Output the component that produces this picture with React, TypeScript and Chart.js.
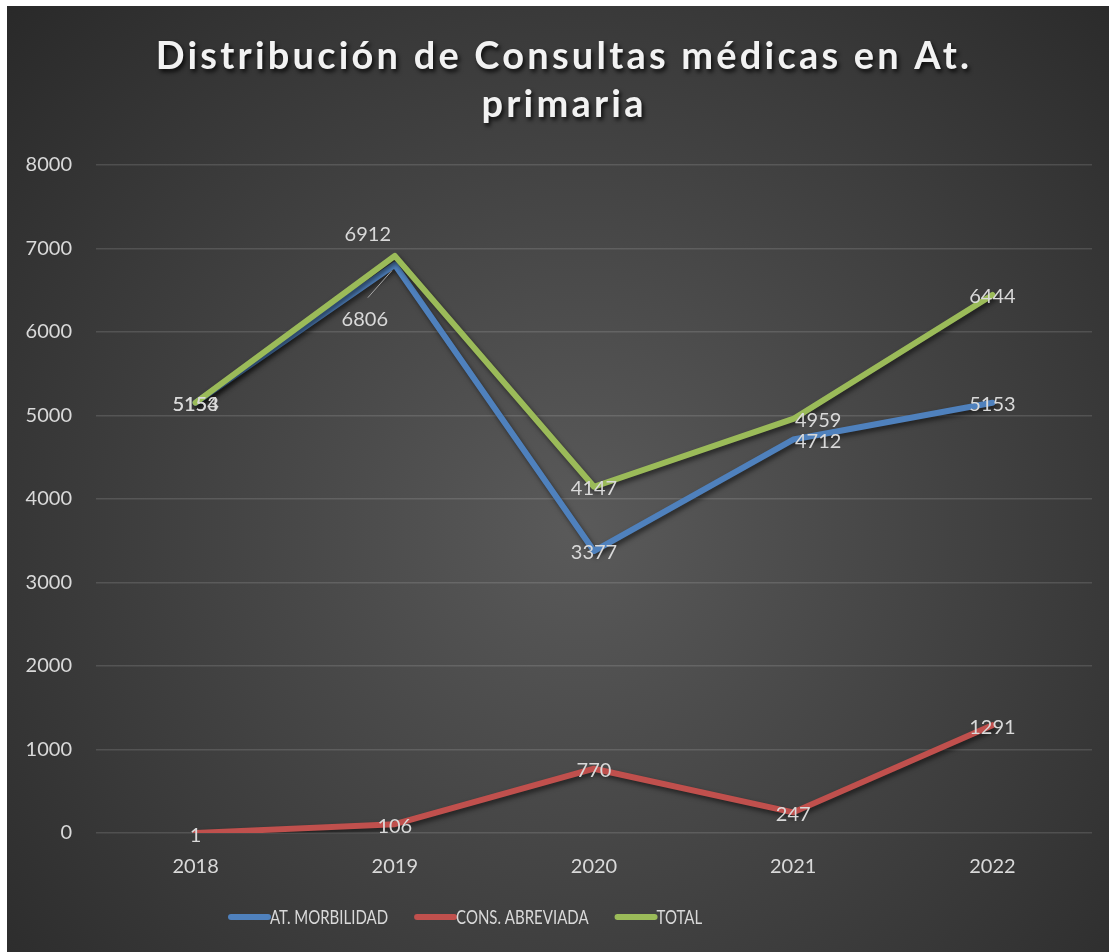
import React, { useEffect, useRef } from "react";
import { Chart, registerables } from "chart.js";

Chart.register(...registerables);

const categories = ["2018", "2019", "2020", "2021", "2022"];
const morbilidad = [5153, 6806, 3377, 4712, 5153];
const abreviada = [1, 106, 770, 247, 1291];
const total = [5154, 6912, 4147, 4959, 6444];
const seriesNames = ["AT. MORBILIDAD", "CONS. ABREVIADA", "TOTAL"];
const yTicks = [0, 1000, 2000, 3000, 4000, 5000, 6000, 7000, 8000];
const titleLines = ["Distribución de Consultas médicas en At.", "primaria"];

// label placement (dx, dy in px) relative to each point
const morbLabelOffsets = [[0, 2], [-30, 55], [0, 2], [25, 2], [0, 2]];
const abrevLabelOffsets = [[0, 3], [0, 2], [0, 2], [0, 2], [0, 2]];
const totalLabelOffsets = [[0, 2], [-27, -21], [0, 2], [25, 2], [0, 2]];

const COLORS = ["#4F81BD", "#C0504D", "#9BBB59"];
const TEXT = "#d9d9d9";
const FONT = "Lato, 'Open Sans', sans-serif";

const bgPlugin = {
  id: "bg",
  beforeDraw(chart: any) {
    const { ctx, width, height } = chart;
    const g = ctx.createRadialGradient(width * 0.52, height * 0.55, 0, width * 0.52, height * 0.55, width * 0.75);
    g.addColorStop(0, "#5a5a5a");
    g.addColorStop(1, "#262626");
    ctx.save();
    ctx.fillStyle = g;
    ctx.fillRect(0, 0, width, height);
    ctx.restore();
  },
};

const shadowPlugin = {
  id: "lineShadow",
  beforeDatasetDraw(chart: any) {
    const ctx = chart.ctx;
    ctx.save();
    ctx.shadowColor = "rgba(0,0,0,0.55)";
    ctx.shadowBlur = 5;
    ctx.shadowOffsetX = 2;
    ctx.shadowOffsetY = 3;
  },
  afterDatasetDraw(chart: any) {
    chart.ctx.restore();
  },
};

const titlePlugin = {
  id: "customTitle",
  afterDraw(chart: any) {
    const ctx = chart.ctx;
    ctx.save();
    ctx.font = `bold 38px ${FONT}`;
    (ctx as any).letterSpacing = "3.2px";
    ctx.textAlign = "center";
    ctx.textBaseline = "middle";
    ctx.fillStyle = "#f2f2f2";
    ctx.shadowColor = "rgba(0,0,0,0.8)";
    ctx.shadowBlur = 4;
    ctx.shadowOffsetX = 2;
    ctx.shadowOffsetY = 3;
    const cx = chart.width / 2 + 6;
    ctx.fillText(titleLines[0], cx, 51);
    ctx.fillText(titleLines[1], cx, 99);
    ctx.restore();
  },
};

const labelsPlugin = {
  id: "pointLabels",
  afterDatasetsDraw(chart: any) {
    const ctx = chart.ctx;
    ctx.save();
    ctx.font = `20px ${FONT}`;
    ctx.textAlign = "center";
    ctx.textBaseline = "middle";
    ctx.fillStyle = TEXT;
    chart.data.datasets.forEach((ds: any, di: number) => {
      const meta = chart.getDatasetMeta(di);
      meta.data.forEach((pt: any, i: number) => {
        const [dx, dy] = ds.labelOffsets[i];
        if (Math.abs(dy) > 30) {
          ctx.save();
          ctx.strokeStyle = "#a6a6a6";
          ctx.lineWidth = 1;
          ctx.beginPath();
          ctx.moveTo(pt.x - 3, pt.y + 6);
          ctx.lineTo(pt.x + dx + 3, pt.y + dy - 22);
          ctx.stroke();
          ctx.restore();
        }
        ctx.fillText(String(ds.data[i]), pt.x + dx, pt.y + dy);
      });
    });
    ctx.restore();
  },
};

const legendPlugin = {
  id: "customLegend",
  afterDraw(chart: any) {
    const ctx = chart.ctx;
    ctx.save();
    ctx.font = `20px ${FONT}`;
    ctx.textBaseline = "middle";
    ctx.textAlign = "left";
    const y = 911;
    const squeeze = 0.75;
    let x = 221;
    seriesNames.forEach((name, i) => {
      ctx.strokeStyle = COLORS[i];
      ctx.lineWidth = 6;
      ctx.lineCap = "round";
      ctx.beginPath();
      ctx.moveTo(x + 3, y);
      ctx.lineTo(x + 40, y);
      ctx.stroke();
      ctx.fillStyle = TEXT;
      const tx = x + 42;
      ctx.save();
      ctx.translate(tx, y + 1);
      ctx.scale(squeeze, 1);
      ctx.fillText(name, 0, 0);
      ctx.restore();
      x = tx + ctx.measureText(name).width * squeeze + 26;
    });
    ctx.restore();
  },
};

export default function App() {
  const ref = useRef<HTMLCanvasElement | null>(null);
  useEffect(() => {
    if (!ref.current) return;
    const mk = (label: string, data: number[], color: string, order: number, offs: number[][]) => ({
      label,
      data,
      borderColor: color,
      backgroundColor: color,
      borderWidth: 6,
      pointRadius: 0,
      pointHoverRadius: 0,
      borderCapStyle: "round",
      borderJoinStyle: "round",
      tension: 0,
      fill: false,
      order,
      labelOffsets: offs,
    });
    const chart = new Chart(ref.current, {
      type: "line",
      data: {
        labels: categories,
        datasets: [
          mk(seriesNames[0], morbilidad, COLORS[0], 3, morbLabelOffsets),
          mk(seriesNames[1], abreviada, COLORS[1], 2, abrevLabelOffsets),
          mk(seriesNames[2], total, COLORS[2], 1, totalLabelOffsets),
        ] as any,
      },
      options: {
        animation: false,
        responsive: false,
        layout: { padding: { top: 159, right: 17, left: 0, bottom: 0 } },
        plugins: {
          legend: { display: false },
          title: { display: false },
          tooltip: { enabled: false },
        },
        scales: {
          x: {
            offset: true,
            grid: { display: false, drawTicks: false },
            border: { display: false },
            ticks: { color: TEXT, font: { family: FONT, size: 20 }, padding: 22 },
            afterFit(scale: any) {
              scale.height = 119;
            },
          },
          y: {
            min: 0,
            max: 8000,
            afterBuildTicks(scale: any) {
              scale.ticks = yTicks.map((v) => ({ value: v }));
            },
            grid: { color: "rgba(255,255,255,0.13)", lineWidth: 1.5, drawTicks: false },
            border: { display: false },
            ticks: {
              color: TEXT,
              font: { family: FONT, size: 20 },
              padding: 24,
              callback: (v: any) => String(v),
            },
            afterFit(scale: any) {
              scale.width = 89;
            },
          },
        },
      },
      plugins: [bgPlugin, shadowPlugin, labelsPlugin, titlePlugin, legendPlugin],
    });
    return () => chart.destroy();
  }, []);
  return (
    <div style={{ position: "absolute", left: 7, top: 6 }}>
      <canvas ref={ref} width={1102} height={946} style={{ display: "block", width: 1102, height: 946 }} />
    </div>
  );
}
